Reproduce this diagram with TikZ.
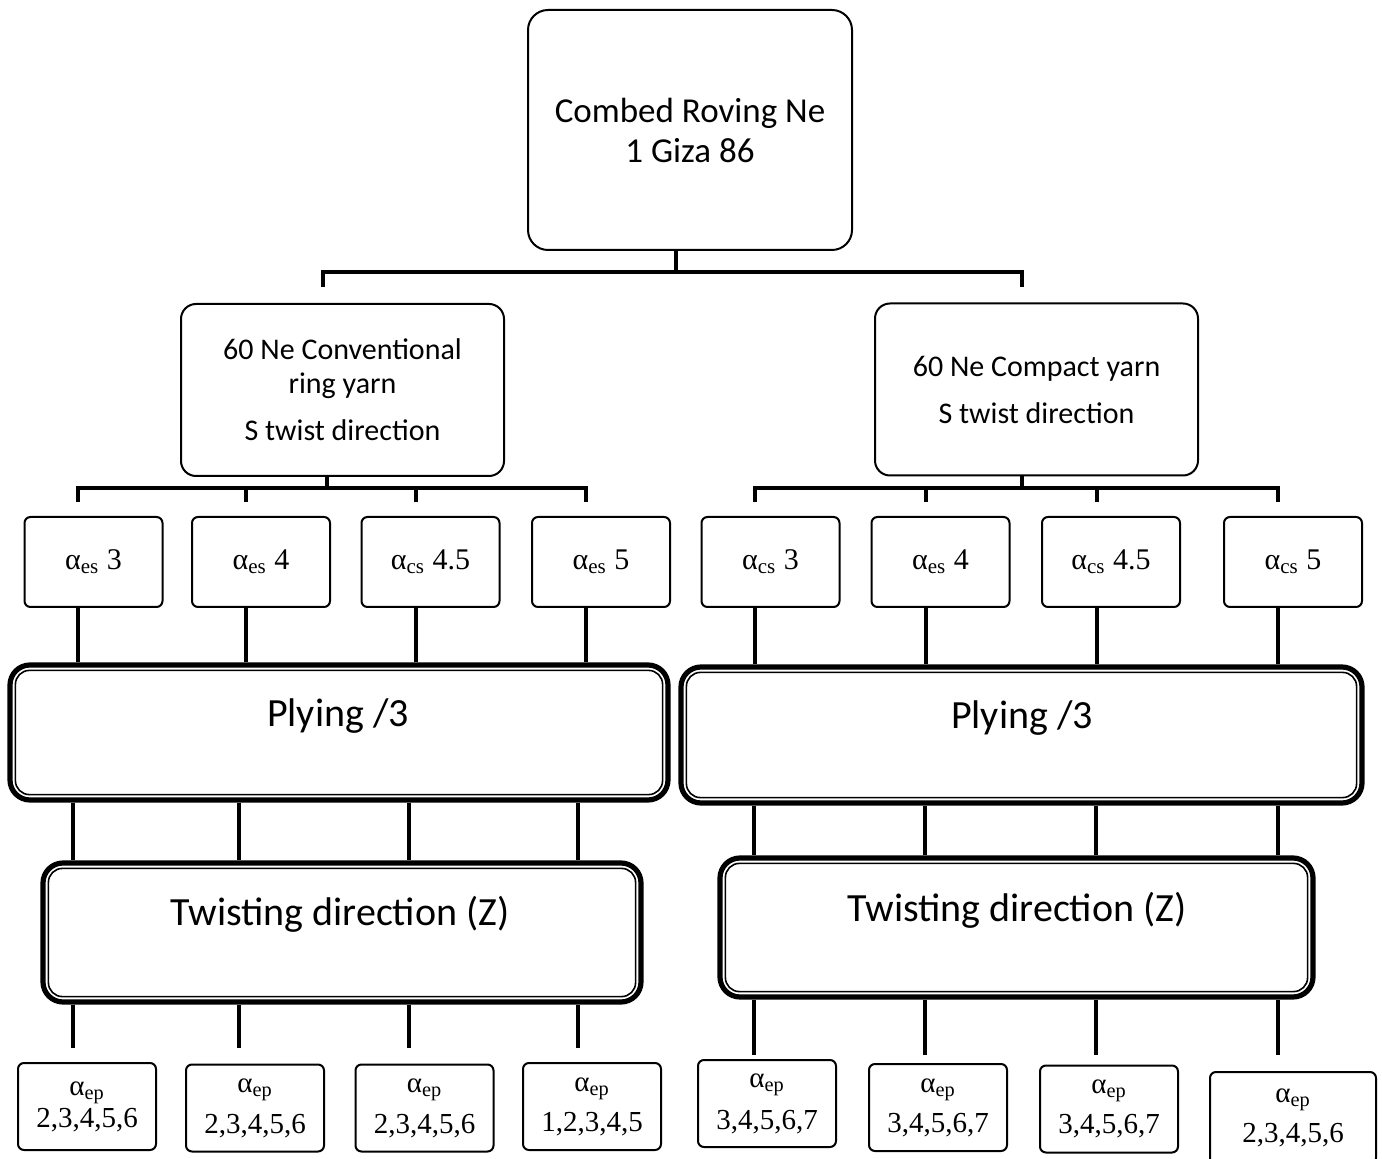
\documentclass[tikz,border=0pt]{standalone}
\usepackage{fontspec}
\setmainfont{Carlito}
\newfontfamily\tms{Liberation Serif}
\begin{document}
\begin{tikzpicture}[x=0.5pt,y=-0.5pt,
  box/.style={draw, line width=1pt, inner sep=0pt, align=center},
  topbox/.style={box, rounded corners=10pt, minimum width=162pt, minimum height=120pt, font=\fontsize{17.5}{20}\selectfont},
  midbox/.style={box, rounded corners=7.5pt, minimum width=161.5pt, minimum height=86pt, font=\fontsize{15}{17}\selectfont},
  abox/.style={box, rounded corners=3pt, minimum width=69pt, minimum height=45pt, font=\tms\fontsize{15}{17}\selectfont},
  epbox/.style={box, rounded corners=3pt, minimum width=69pt, minimum height=43.5pt, font=\tms\fontsize{14.5}{17}\selectfont},
  plybox/.style={draw, line width=2.6pt, rounded corners=10pt, inner sep=0pt},
  innerline/.style={line width=0.8pt, rounded corners=7pt},
  bigtext/.style={font=\fontsize{20}{24}\selectfont, inner sep=0pt},
  conn/.style={line width=1.6pt},
  barl/.style={line width=2pt}
]
\useasboundingbox (0,0) rectangle (1382,1159);

% top
\node[topbox] (top) at (690,130) {Combed Roving Ne\\1 Giza 86};

% level 2
\node[midbox] (L2a) at (342.5,390) {60 Ne Conventional\\ring yarn\\[6.5pt]S twist direction};
\node[midbox] (L2b) at (1036.5,389.5) {60 Ne Compact yarn\\[6.5pt]S twist direction};

\coordinate (j0) at (676,272);
\coordinate (d1) at (323,287);
\coordinate (d2) at (1022,287);
\draw[conn] (j0 |- top.south) -- (j0);
\draw[barl] (d1) |- (j0) -| (d2);

% alpha boxes
\node[abox] (a1) at (93.5,562) {α\textsubscript{es} 3};
\node[abox] (a2) at (261,562) {α\textsubscript{es} 4};
\node[abox] (a3) at (430.5,562) {α\textsubscript{cs} 4.5};
\node[abox] (a4) at (601,562) {α\textsubscript{es} 5};
\node[abox] (a5) at (770.5,562) {α\textsubscript{cs} 3};
\node[abox] (a6) at (940.5,562) {α\textsubscript{es} 4};
\node[abox] (a7) at (1111,562) {α\textsubscript{cs} 4.5};
\node[abox] (a8) at (1293,562) {α\textsubscript{cs} 5};

\coordinate (j1) at (327,488);
\coordinate (j2) at (1022,488);
\coordinate (e1) at (78,502);
\coordinate (e2) at (246,502);
\coordinate (e3) at (416,502);
\coordinate (e4) at (586,502);
\coordinate (e5) at (755,502);
\coordinate (e6) at (926,502);
\coordinate (e7) at (1097,502);
\coordinate (e8) at (1278,502);

\draw[conn] (j1 |- L2a.south) -- (j1);
\draw[barl] (e1) |- (j1) -| (e4);
\draw[barl] (e2) -- (e2 |- j1);
\draw[barl] (e3) -- (e3 |- j1);
\draw[conn] (j2 |- L2b.south) -- (j2);
\draw[barl] (e5) |- (j2) -| (e8);
\draw[barl] (e6) -- (e6 |- j2);
\draw[barl] (e7) -- (e7 |- j2);

% plying
\node[plybox, minimum width=329pt, minimum height=67.5pt] (pL) at (339,732.5) {};
\node[plybox, minimum width=340.5pt, minimum height=68pt] (pR) at (1021.5,735) {};
\draw[innerline] ([xshift=4pt,yshift=-4pt]pL.north west) rectangle ([xshift=-4pt,yshift=4pt]pL.south east);
\draw[innerline] ([xshift=4pt,yshift=-4pt]pR.north west) rectangle ([xshift=-4pt,yshift=4pt]pR.south east);
\node[bigtext] (pLt) at (338,716) {Plying /3};
\node[bigtext] (pRt) at (1022,718) {Plying /3};

\foreach \i/\b in {1/a1,2/a2,3/a3,4/a4}{
  \draw[conn] (e\i |- \b.south) -- (e\i |- pL.north);
}
\foreach \i/\b in {5/a5,6/a6,7/a7,8/a8}{
  \draw[conn] (e\i |- \b.south) -- (e\i |- pR.north);
}

% twisting
\node[plybox, minimum width=299pt, minimum height=69.5pt] (zL) at (342,932.5) {};
\node[plybox, minimum width=296.5pt, minimum height=69.5pt] (zR) at (1016.5,927.5) {};
\draw[innerline] ([xshift=4pt,yshift=-4pt]zL.north west) rectangle ([xshift=-4pt,yshift=4pt]zL.south east);
\draw[innerline] ([xshift=4pt,yshift=-4pt]zR.north west) rectangle ([xshift=-4pt,yshift=4pt]zR.south east);
\node[bigtext] (zLt) at (340,914) {Twisting direction (Z)};
\node[bigtext] (zRt) at (1017,910) {Twisting direction (Z)};

\coordinate (f1) at (73,1048);
\coordinate (f2) at (239,1048);
\coordinate (f3) at (409,1048);
\coordinate (f4) at (578,1048);
\coordinate (g1) at (754,1055);
\coordinate (g2) at (925,1055);
\coordinate (g3) at (1096,1055);
\coordinate (g4) at (1278,1055);

\foreach \i in {1,2,3,4}{
  \draw[conn] (f\i |- pL.south) -- (f\i |- zL.north);
  \draw[conn] (f\i |- zL.south) -- (f\i);
  \draw[conn] (g\i |- pR.south) -- (g\i |- zR.north);
  \draw[conn] (g\i |- zR.south) -- (g\i);
}

% bottom
\node[epbox] (b1) at (87,1106.5) {α\textsubscript{ep}\\[-1pt]2,3,4,5,6};
\node[epbox] (b2) at (255,1108) {α\textsubscript{ep}\\[3.5pt]2,3,4,5,6};
\node[epbox] (b3) at (424.5,1108) {α\textsubscript{ep}\\[3.5pt]2,3,4,5,6};
\node[epbox] (b4) at (592,1106.5) {α\textsubscript{ep}\\[3pt]1,2,3,4,5};
\node[epbox] (b5) at (767,1103.5) {α\textsubscript{ep}\\[4pt]3,4,5,6,7};
\node[epbox] (b6) at (938,1107.5) {α\textsubscript{ep}\\[3pt]3,4,5,6,7};
\node[epbox] (b7) at (1109,1109) {α\textsubscript{ep}\\[3pt]3,4,5,6,7};
\node[epbox, minimum width=83pt, minimum height=46pt] (b8) at (1293,1118) {α\textsubscript{ep}\\[3pt]2,3,4,5,6};
\end{tikzpicture}
\end{document}
